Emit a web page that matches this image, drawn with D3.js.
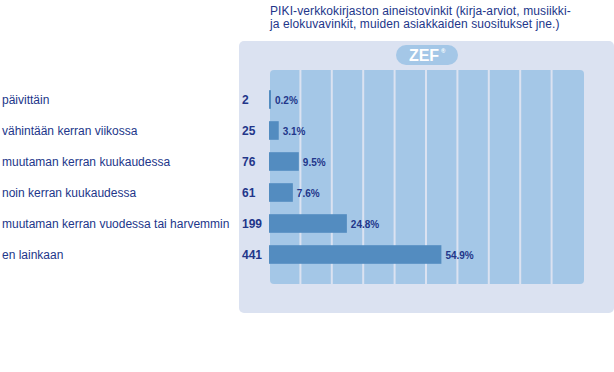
<!DOCTYPE html>
<html>
<head>
<meta charset="utf-8">
<script src="https://cdn.jsdelivr.net/npm/d3@7"></script>
<style>
  body { margin: 0; background: #fff; }
  svg { display: block; font-family: "Liberation Sans", Arial, sans-serif; }
</style>
</head>
<body>
<div id="chart"></div>
<script>
// answer categories, counts and shares as shown
var categories = [
  'päivittäin',
  'vähintään kerran viikossa',
  'muutaman kerran kuukaudessa',
  'noin kerran kuukaudessa',
  'muutaman kerran vuodessa tai harvemmin',
  'en lainkaan'
];
var counts = [2, 25, 76, 61, 199, 441];
var percents = [0.2, 3.1, 9.5, 7.6, 24.8, 54.9];
var titleLines = [
  'PIKI-verkkokirjaston aineistovinkit (kirja-arviot, musiikki-',
  'ja elokuvavinkit, muiden asiakkaiden suositukset jne.)'
];
var gridTicks = [10, 20, 30, 40, 50, 60, 70, 80, 90];

var width = 614, height = 372;
var textColor = '#22368a';

var svg = d3.select('#chart').append('svg')
  .attr('width', width)
  .attr('height', height);

// outer panel
svg.append('rect')
  .attr('x', 239).attr('y', 41)
  .attr('width', 375).attr('height', 272)
  .attr('rx', 5)
  .attr('fill', '#dbe2f1');

// plot area
var plot = { left: 270, right: 584, top: 70, bottom: 284 };
svg.append('rect')
  .attr('x', plot.left).attr('y', plot.top)
  .attr('width', plot.right - plot.left).attr('height', plot.bottom - plot.top)
  .attr('rx', 4)
  .attr('fill', '#a4c7e7');

var x = d3.scaleLinear().domain([0, 100]).range([269, 583]);
var y = d3.scaleBand().domain(d3.range(categories.length))
  .range([84, 270]).paddingInner(0.4).paddingOuter(0.2);

// vertical grid lines
svg.selectAll('line.grid')
  .data(gridTicks)
  .enter().append('line')
  .attr('class', 'grid')
  .attr('x1', function(d) { return x(d); })
  .attr('x2', function(d) { return x(d); })
  .attr('y1', plot.top)
  .attr('y2', plot.bottom)
  .attr('stroke', '#dbe2f1')
  .attr('stroke-width', 2);

// ZEF badge
svg.append('rect')
  .attr('x', 396).attr('y', 45)
  .attr('width', 62).attr('height', 20)
  .attr('rx', 10)
  .attr('fill', '#a4c7e7');
svg.append('text')
  .attr('x', 424).attr('y', 61)
  .attr('text-anchor', 'middle')
  .attr('font-size', 16).attr('font-weight', 'bold')
  .attr('fill', '#fff')
  .text('ZEF');
svg.append('text')
  .attr('x', 441).attr('y', 53)
  .attr('font-size', 6).attr('font-weight', 'bold')
  .attr('fill', '#fff')
  .text('®');

// title
svg.selectAll('text.title')
  .data(titleLines)
  .enter().append('text')
  .attr('class', 'title')
  .attr('x', 270)
  .attr('y', function(d, i) { return 15 + i * 13; })
  .attr('font-size', 12)
  .attr('letter-spacing', 0.1)
  .attr('fill', textColor)
  .text(function(d) { return d; });

var rows = svg.selectAll('g.row')
  .data(categories)
  .enter().append('g')
  .attr('class', 'row');

rows.append('text')
  .attr('x', 2)
  .attr('y', function(d, i) { return y(i) + y.bandwidth() / 2 + 4; })
  .attr('font-size', 12)
  .attr('fill', textColor)
  .text(function(d) { return d; });

rows.append('text')
  .attr('x', 242)
  .attr('y', function(d, i) { return y(i) + y.bandwidth() / 2 + 4.5; })
  .attr('font-size', 12).attr('font-weight', 'bold')
  .attr('fill', textColor)
  .text(function(d, i) { return counts[i]; });

rows.append('rect')
  .attr('x', x(0))
  .attr('y', function(d, i) { return y(i); })
  .attr('width', function(d, i) { return Math.max(2, x(percents[i]) - x(0)); })
  .attr('height', y.bandwidth())
  .attr('fill', '#538cc0');

rows.append('text')
  .attr('x', function(d, i) { return x(0) + Math.max(2, x(percents[i]) - x(0)) + 4; })
  .attr('y', function(d, i) { return y(i) + y.bandwidth() / 2 + 4; })
  .attr('font-size', 10).attr('font-weight', 'bold')
  .attr('fill', textColor)
  .text(function(d, i) { return percents[i].toFixed(1) + '%'; });
</script>
</body>
</html>
